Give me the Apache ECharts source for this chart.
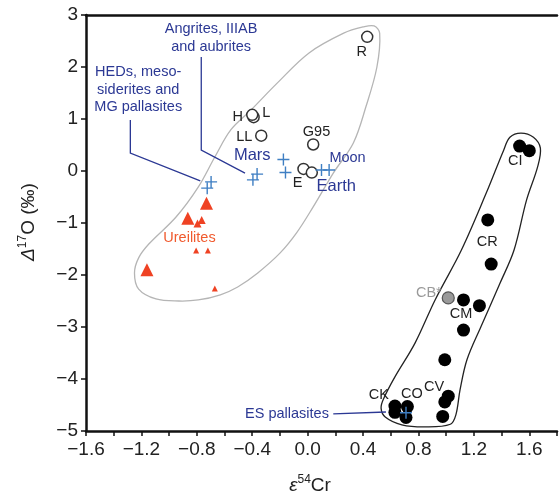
<!DOCTYPE html>
<html>
<head>
<meta charset="utf-8">
<script src="https://cdn.jsdelivr.net/npm/echarts@6/dist/echarts.min.js"></script>
<style>
  html, body { margin: 0; padding: 0; background: #fff; }
  #chart { width: 560px; height: 497px; }
</style>
</head>
<body>
<div id="chart"></div>
<script>
// ε54Cr (x) vs Δ17O (y)
const openCircles = [[0.43, 2.58], [-0.39, 1.035], [-0.40, 1.08], [-0.335, 0.68], [0.04, 0.51], [-0.03, 0.04], [0.03, -0.03]]
const blueCrosses = [
  [-0.697, -0.21], [-0.725, -0.33], // HEDs etc
  [-0.365, -0.06], [-0.395, -0.17], // angrites etc
  [-0.175, 0.22], [-0.16, -0.03],
  [0.10, 0.02], [0.155, 0.02],
  [0.71, -4.65] // ES pallasites
]
const ureiliteLarge = [[-0.73, -0.62], [-0.865, -0.91], [-1.16, -1.90]]
const ureiliteMedium = [[-0.795, -1.01], [-0.765, -0.94]]
const ureiliteSmall = [[-0.805, -1.53], [-0.72, -1.53], [-0.67, -2.26]]
const carbonaceous = [
  [1.53, 0.48], [1.60, 0.39], [1.30, -0.94], [1.325, -1.79],
  [1.125, -2.48], [1.24, -2.59], [1.125, -3.06], [0.99, -3.63],
  [1.015, -4.33], [0.99, -4.44], [0.975, -4.72],
  [0.63, -4.52], [0.63, -4.64], [0.72, -4.53], [0.71, -4.74]
]
const cbPoint = [[1.015, -2.44]]

const achondriteHull = [
  [0.40, 2.77], [0.48, 2.79], [0.52, 2.65], [0.50, 2.00], [0.42, 1.23], [0.33, 0.54],
  [0.185, -0.04], [0.04, -0.69], [-0.08, -1.19], [-0.20, -1.58], [-0.36, -1.96],
  [-0.505, -2.23], [-0.63, -2.38], [-0.79, -2.48], [-0.93, -2.50], [-1.095, -2.46],
  [-1.22, -2.27], [-1.25, -1.96], [-1.22, -1.67], [-1.145, -1.40], [-0.95, -0.885],
  [-0.79, -0.31], [-0.67, 0.27], [-0.555, 0.79], [-0.41, 1.17], [-0.22, 1.69],
  [0.01, 2.27], [0.26, 2.65]
]
const chondriteHull = [
  [1.46, 0.65], [1.54, 0.73], [1.63, 0.65], [1.68, 0.44], [1.66, 0.08], [1.58, -0.56],
  [1.49, -1.52], [1.39, -2.15], [1.25, -3.0], [1.15, -3.63], [1.10, -4.21], [1.07, -4.69],
  [1.03, -4.87], [0.85, -4.92], [0.68, -4.88], [0.56, -4.73], [0.53, -4.56], [0.55, -4.37],
  [0.63, -3.96], [0.775, -3.31], [0.92, -2.48], [1.11, -1.52], [1.29, -0.42], [1.415, 0.40]
]

const arrows = [
  [[-1.28, 0.98], [-1.28, 0.346], [-0.775, -0.19]],
  [[-0.768, 2.19], [-0.768, 0.40], [-0.452, -0.04]],
  [[0.185, -4.67], [0.565, -4.635]]
]

const blueNotes = [
  ['Angrites, IIIAB\nand aubrites', -0.697, 2.56],
  ['HEDs, meso-\nsiderites and\nMG pallasites', -1.223, 1.56],
  ['Moon', 0.288, 0.25],
  ['ES pallasites', -0.149, -4.67]
]
const bigBlueNotes = [['Mars', -0.40, 0.29], ['Earth', 0.206, -0.29]]
const redNotes = [['Ureilites', -0.853, -1.29]]
const blackNotes = [
  ['R', 0.391, 2.29], ['H', -0.505, 1.04], ['L', -0.299, 1.12], ['LL', -0.457, 0.66],
  ['G95', 0.064, 0.756], ['E', -0.073, -0.225], ['CI', 1.498, 0.198], ['CR', 1.296, -1.36],
  ['CM', 1.107, -2.756], ['CK', 0.514, -4.31], ['CO', 0.752, -4.29], ['CV', 0.912, -4.16]
]
const grayNotes = [['CB*', 0.875, -2.35]]

const FONT = "'Liberation Sans', Arial, sans-serif"
const BLUE = '#2b3894'

const fmt = (v, d) => {
  const s = Math.abs(v).toFixed(d)
  return v < -1e-9 ? '\u2212' + s : s
}

const hullSeries = (points, color) => ({
  type: 'custom',
  silent: true,
  z: 1,
  data: [[0, 0]],
  renderItem: (params, api) => ({
    type: 'polygon',
    shape: { points: points.map(p => api.coord(p)), smooth: 0.35 },
    style: { fill: 'none', stroke: color, lineWidth: 1.3 }
  })
})

const markSeries = (data, symbol, size, style, z) => ({
  type: 'scatter',
  silent: true,
  z: z || 4,
  symbol: symbol,
  symbolSize: size,
  itemStyle: Object.assign({ opacity: 1 }, style),
  data: data
})

const noteSeries = (items, color, size, lineHeight) => ({
  type: 'scatter',
  silent: true,
  z: 6,
  symbolSize: 1,
  itemStyle: { color: 'rgba(0,0,0,0)', opacity: 1 },
  data: items.map(d => ({ name: d[0], value: [d[1], d[2]] })),
  label: {
    show: true,
    position: 'inside',
    formatter: '{b}',
    color: color,
    opacity: 1,
    fontSize: size,
    lineHeight: lineHeight || size + 3,
    fontFamily: FONT,
    align: 'center'
  }
})

const titleRich = {
  i: { fontSize: 19, fontStyle: 'italic', fontFamily: FONT, lineHeight: 24, fill: '#222' },
  s: { fontSize: 12, fontFamily: FONT, verticalAlign: 'top', lineHeight: 14, fill: '#222' },
  n: { fontSize: 19, fontFamily: FONT, lineHeight: 24, fill: '#222' }
}

const chart = echarts.init(document.getElementById('chart'))
chart.setOption({
  animation: false,
  grid: { left: 86, top: 15, width: 478, height: 416 },
  xAxis: [
    {
      type: 'value',
      min: -1.6,
      max: 1.8,
      interval: 0.2,
      splitLine: { show: false },
      axisLine: { onZero: false, lineStyle: { color: '#111', width: 2.5 } },
      axisTick: { inside: false, length: 5, lineStyle: { color: '#111', width: 1.5 } },
      axisLabel: {
        margin: 9,
        fontSize: 19,
        color: '#222',
        fontFamily: FONT,
        formatter: v => {
          const t = Math.round(v * 10)
          return t % 4 === 0 && t <= 16 ? fmt(t / 10, 1) : ''
        }
      }
    },
    {
      type: 'value',
      position: 'top',
      min: -1.6,
      max: 1.8,
      axisLine: { show: true, onZero: false, lineStyle: { color: '#111', width: 2.5 } },
      axisTick: { show: false },
      axisLabel: { show: false },
      splitLine: { show: false }
    }
  ],
  yAxis: {
    type: 'value',
    min: -5,
    max: 3,
    interval: 1,
    splitLine: { show: false },
    axisLine: { onZero: false, lineStyle: { color: '#111', width: 2.5 } },
    axisTick: { length: 5, lineStyle: { color: '#111', width: 1.5 } },
    axisLabel: { margin: 8, fontSize: 19, color: '#222', fontFamily: FONT, formatter: v => fmt(v, 0) }
  },
  graphic: [
    {
      type: 'text',
      x: 29,
      y: 222,
      rotation: Math.PI / 2,
      style: { text: '{i|\u0394}{s|17}{n|O (\u2030)}', align: 'center', verticalAlign: 'middle', rich: titleRich }
    },
    {
      type: 'text',
      x: 310,
      y: 486,
      style: { text: '{i|\u03b5}{s|54}{n|Cr}', align: 'center', verticalAlign: 'middle', rich: titleRich }
    }
  ],
  series: [
    hullSeries(achondriteHull, '#b5b5b5'),
    hullSeries(chondriteHull, '#222'),
    {
      type: 'lines',
      coordinateSystem: 'cartesian2d',
      polyline: true,
      silent: true,
      z: 3,
      symbol: ['none', 'arrow'],
      symbolSize: 7,
      lineStyle: { color: BLUE, width: 1.3, opacity: 1 },
      data: arrows.map(c => ({ coords: c }))
    },
    markSeries(carbonaceous, 'circle', 13, { color: '#000' }),
    markSeries(cbPoint, 'circle', 12, { color: '#9a9a9a', borderColor: '#555', borderWidth: 1.2 }),
    markSeries(openCircles, 'circle', 11, { color: '#fff', borderColor: '#333', borderWidth: 1.5 }),
    markSeries(ureiliteLarge, 'triangle', 13, { color: '#ef4223' }),
    markSeries(ureiliteMedium, 'triangle', 8, { color: '#ef4223' }),
    markSeries(ureiliteSmall, 'triangle', 6, { color: '#ef4223' }),
    markSeries(blueCrosses, 'path://M0,5.3H12V6.7H0Z M5.3,0H6.7V12H5.3Z', 12, { color: '#3f7fc3' }, 5),
    noteSeries(blueNotes, BLUE, 14.5, 17.5),
    noteSeries(bigBlueNotes, BLUE, 16.5),
    noteSeries(redNotes, '#f05a2e', 14.5),
    noteSeries(blackNotes, '#222', 14.5),
    noteSeries(grayNotes, '#9a9a9a', 14.5)
  ]
})
</script>
</body>
</html>
